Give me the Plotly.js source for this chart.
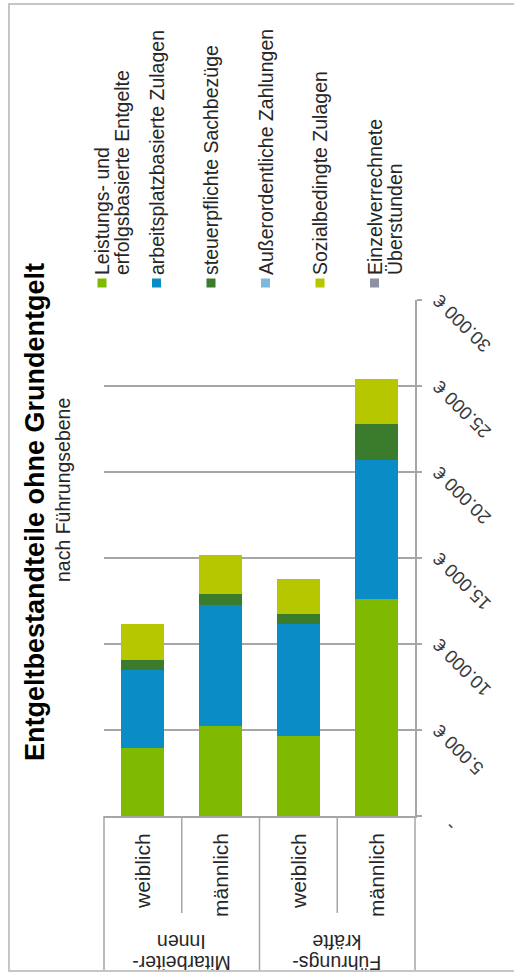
<!DOCTYPE html>
<html>
<head>
<meta charset="utf-8">
<script src="https://cdn.plot.ly/plotly-3.0.1.min.js"></script>
<style>
  html, body { margin:0; padding:0; width:514px; height:978px; overflow:hidden; background:#fff; }
  #wrap { position:absolute; left:0; top:0; width:978px; height:514px;
          transform-origin:0 0; transform: translate(0px, 978px) rotate(-90deg); }
  #chart { position:absolute; left:0; top:0; width:978px; height:514px; }
  #frame { position:absolute; left:6px; top:8px; width:969px; height:506px;
           border:2px solid #C6C6C6; border-bottom:none; box-sizing:border-box; pointer-events:none; }
</style>
</head>
<body>
<div id="wrap"><div id="chart"></div><div id="frame"></div></div>
<script>
// ---- data ----
const groups  = ["Mitarbeiter-<br>Innen", "Mitarbeiter-<br>Innen", "Führungs-<br>kräfte", "Führungs-<br>kräfte"];
const genders = ["weiblich", "männlich", "weiblich", "männlich"];

const seriesNames = [
  "Leistungs- und<br>erfolgsbasierte Entgelte",
  "arbeitsplatzbasierte Zulagen",
  "steuerpflichte Sachbezüge",
  "Außerordentliche Zahlungen",
  "Sozialbedingte Zulagen",
  "Einzelverrechnete<br>Überstunden"
];
const leistung      = [3970, 5230, 4650, 12640];
const arbeitsplatz  = [4510, 7010, 6490, 8030];
const sachbezuege   = [580, 640, 620, 2130];
const ausserordentl = [0, 0, 0, 0];
const sozial        = [2110, 2280, 2030, 2600];
const ueberstunden  = [0, 0, 0, 0];
const seriesValues = [leistung, arbeitsplatz, sachbezuege, ausserordentl, sozial, ueberstunden];
const seriesColors = ["#80BA00", "#0A8CC6", "#3A7B2C", "#7DB9D8", "#B6C700", "#8E90A8"];

const xTickVals = [0, 5000, 10000, 15000, 20000, 25000, 30000];
const xTickText = ["-\u00a0\u00a0\u00a0", "5.000 €", "10.000 €", "15.000 €", "20.000 €", "25.000 €", "30.000 €"];

const titleText = "Entgeltbestandteile ohne Grundentgelt";
const subtitleText = "nach Führungsebene";

// ---- layout geometry (landscape, rotated by CSS) ----
const W = 978, H = 514, ML = 162, MR = 300, MT = 104, MB = 99;
const PW = W - ML - MR, PH = H - MT - MB;
const px = X => (X - ML) / PW;
const py = Y => 1 - (Y - MT) / PH;
const GRID = "#A6A6A6";
const FONT = "Liberation Sans, Arial, sans-serif";
const TXT = "#262626";

const catKeys = groups.map((g, i) => g.replace("<br>", "") + " " + genders[i]);
const n = catKeys.length;
const catPaperY = b => 1 - (b + 0.5) / n;   // category coordinate -> paper (reversed order)

const traces = seriesNames.map((name, k) => ({
  type: "bar", orientation: "h", name: name.replace("<br>", " "),
  x: seriesValues[k], y: catKeys,
  marker: { color: seriesColors[k], line: { width: 0 } },
  showlegend: false, hoverinfo: "skip"
}));

const shapes = [];
const annotations = [];

// category table lines
for (let i = 0; i <= n; i++) {
  const full = (i === 0 || i === n || groups[i] !== groups[i - 1]);
  shapes.push({ type: "line", xref: "paper", yref: "paper",
    x0: px(full ? 8 : 65), x1: 0, y0: catPaperY(i - 0.5), y1: catPaperY(i - 0.5),
    line: { color: GRID, width: 1.5 } });
}
// inner category labels
catKeys.forEach((k, i) => {
  annotations.push({ xref: "paper", yref: "paper", x: px(147), y: catPaperY(i),
    xanchor: "right", yanchor: "middle", text: genders[i], showarrow: false,
    font: { family: FONT, size: 21, color: TXT } });
});
// outer group labels (rotated)
const uniq = [...new Set(groups)];
uniq.forEach(g => {
  const first = groups.indexOf(g), last = groups.lastIndexOf(g);
  const c = (first + last) / 2;
  g.split("<br>").forEach((line, j) => {
    annotations.push({ xref: "paper", yref: "paper", x: px(15 + j * 21), y: catPaperY(c),
      xanchor: "center", yanchor: "middle", textangle: -90, text: line, showarrow: false,
      font: { family: FONT, size: 19.5, color: TXT } });
  });
});
// subtitle
annotations.push({ xref: "paper", yref: "paper", x: px(488), y: py(63), xanchor: "center", yanchor: "middle",
  text: subtitleText, showarrow: false, font: { family: FONT, size: 19.5, color: TXT } });

// custom legend
const legTop = 102, legStep = 54.5, legX = 695, lineGap = 20;
seriesNames.forEach((name, k) => {
  const yc = legTop + k * legStep;
  shapes.push({ type: "rect", xref: "paper", yref: "paper",
    x0: px(legX - 4.5), x1: px(legX + 4.5), y0: py(yc + 4.5), y1: py(yc - 4.5),
    fillcolor: seriesColors[k], line: { width: 0 } });
  name.split("<br>").forEach((line, j) => {
    annotations.push({ xref: "paper", yref: "paper", x: px(legX + 6), y: py(yc + j * lineGap),
      xanchor: "left", yanchor: "middle", text: line, showarrow: false,
      font: { family: FONT, size: 19.5, color: TXT } });
  });
});

const layout = {
  width: W, height: H,
  margin: { l: ML, r: MR, t: MT, b: MB, pad: 0 },
  paper_bgcolor: "rgba(0,0,0,0)", plot_bgcolor: "rgba(0,0,0,0)",
  barmode: "stack", bargap: 0.45,
  showlegend: false,
  title: { text: titleText, xref: "container", yref: "container",
    x: 466 / W, xanchor: "center", y: 1 - 35 / H, yanchor: "middle",
    font: { family: FONT, size: 27, color: "#000", weight: 700 } },
  xaxis: { range: [0, 30000], tickmode: "array", tickvals: xTickVals, ticktext: xTickText,
    tickangle: -45, showgrid: true, gridcolor: GRID, gridwidth: 1.5,
    ticks: "outside", ticklen: 5, tickcolor: GRID, tickwidth: 1.5,
    showline: true, linecolor: GRID, linewidth: 1.5, zeroline: false, fixedrange: true,
    tickfont: { family: FONT, size: 18.5, color: "#3a3a3a" } },
  yaxis: { type: "category", categoryorder: "array", categoryarray: catKeys, autorange: "reversed",
    showticklabels: false, ticks: "", showgrid: false, zeroline: false,
    showline: true, linecolor: GRID, linewidth: 1.5, fixedrange: true },
  shapes: shapes,
  annotations: annotations,
  font: { family: FONT, color: TXT }
};

Plotly.newPlot("chart", traces, layout, { displayModeBar: false, staticPlot: true });
</script>
</body>
</html>
